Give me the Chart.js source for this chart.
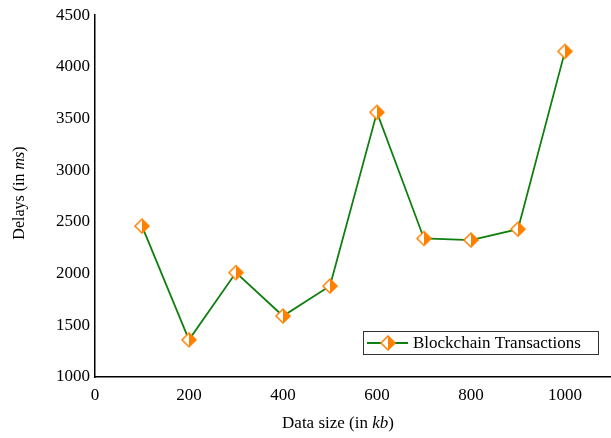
<!DOCTYPE html>
<html>
<head>
<meta charset="utf-8">
<script src="https://cdn.jsdelivr.net/npm/chart.js@4/dist/chart.umd.min.js"></script>
<style>
  html, body { margin: 0; padding: 0; background: #fff; }
  #wrap { width: 611px; height: 438px; }
</style>
</head>
<body>
<div id="wrap"><canvas id="c" width="611" height="438"></canvas></div>
<script>
// Data size (kb) and the measured delays (ms)
const dataSizes = [100, 200, 300, 400, 500, 600, 700, 800, 900, 1000];
const delays = [2460, 1360, 2010, 1590, 1880, 3560, 2340, 2325, 2430, 4150];
const xTicks = [0, 200, 400, 600, 800, 1000];
const yTicks = [1000, 1500, 2000, 2500, 3000, 3500, 4000, 4500];
const seriesName = 'Blockchain Transactions';

const FONT = '"Liberation Serif", "Times New Roman", serif';
const ORANGE = '#ff8000';
const GREEN = '#0f7f0f';

// Half-filled diamond marker
function makeDiamond(r) {
  const size = Math.ceil(r * 2 + 4);
  const cv = document.createElement('canvas');
  cv.width = size; cv.height = size;
  const g = cv.getContext('2d');
  const c = size / 2;
  g.beginPath();
  g.moveTo(c, c - r); g.lineTo(c + r, c); g.lineTo(c, c + r); g.lineTo(c - r, c); g.closePath();
  g.fillStyle = '#fff'; g.fill();
  g.beginPath();
  g.moveTo(c, c - r); g.lineTo(c + r, c); g.lineTo(c, c + r); g.closePath();
  g.fillStyle = ORANGE; g.fill();
  g.beginPath();
  g.moveTo(c, c - r); g.lineTo(c + r, c); g.lineTo(c, c + r); g.lineTo(c - r, c); g.closePath();
  g.strokeStyle = ORANGE; g.lineWidth = 1.5; g.stroke();
  return cv;
}
const marker = makeDiamond(7);

// Draws text made of roman/italic pieces, centred at (x, y)
function richText(ctx, parts, x, y, size) {
  const widths = parts.map(p => {
    ctx.font = (p.italic ? 'italic ' : '') + size + 'px ' + FONT;
    return ctx.measureText(p.text).width;
  });
  const total = widths.reduce((a, b) => a + b, 0);
  let cx = x - total / 2;
  ctx.textAlign = 'left';
  ctx.textBaseline = 'middle';
  parts.forEach((p, i) => {
    ctx.font = (p.italic ? 'italic ' : '') + size + 'px ' + FONT;
    ctx.fillText(p.text, cx, y);
    cx += widths[i];
  });
}

const decorations = {
  id: 'decorations',
  afterDraw(chart) {
    const ctx = chart.ctx;
    ctx.save();
    ctx.fillStyle = '#000';
    // x-axis title
    richText(ctx, [{text: 'Data size (in '}, {text: 'kb', italic: true}, {text: ')'}],
      338, 424, 17);
    // y-axis title
    ctx.save();
    ctx.translate(20, 193);
    ctx.rotate(-Math.PI / 2);
    richText(ctx, [{text: 'Delays (in '}, {text: 'ms', italic: true}, {text: ')'}], 0, 0, 16);
    ctx.restore();

    // legend box
    const bx = 363, by = 331, bw = 235, bh = 23;
    ctx.fillStyle = '#fff';
    ctx.fillRect(bx, by, bw, bh);
    ctx.strokeStyle = '#333';
    ctx.lineWidth = 1;
    ctx.strokeRect(bx + 0.5, by + 0.5, bw, bh);
    const ly = by + bh / 2 + 0.5;
    ctx.strokeStyle = GREEN;
    ctx.lineWidth = 2;
    ctx.beginPath();
    ctx.moveTo(367, ly); ctx.lineTo(408, ly);
    ctx.stroke();
    ctx.drawImage(marker, 388 - marker.width / 2, ly - marker.height / 2);
    ctx.fillStyle = '#000';
    ctx.font = '17px ' + FONT;
    ctx.textAlign = 'left';
    ctx.textBaseline = 'middle';
    ctx.fillText(chart.data.datasets[0].label, 413, ly + 1);
    ctx.restore();
  }
};

const plain = v => String(v);

new Chart(document.getElementById('c'), {
  type: 'line',
  data: {
    datasets: [{
      label: seriesName,
      data: dataSizes.map((x, i) => ({x: x, y: delays[i]})),
      borderColor: GREEN,
      borderWidth: 1.8,
      pointStyle: marker,
      pointRadius: 7,
      tension: 0,
      fill: false
    }]
  },
  options: {
    responsive: false,
    animation: false,
    layout: { autoPadding: false, padding: { top: 15, right: 0, left: 0, bottom: 0 } },
    plugins: { legend: { display: false }, tooltip: { enabled: false } },
    scales: {
      x: {
        type: 'linear',
        min: 0,
        max: 1098,
        afterBuildTicks: s => { s.ticks = xTicks.map(v => ({value: v})); },
        afterFit: s => { s.height = 61; },
        grid: { display: false, drawTicks: false },
        border: { display: true, color: '#000', width: 1.5 },
        ticks: { color: '#000', font: { family: FONT, size: 17 }, padding: 8, maxRotation: 0, callback: plain }
      },
      y: {
        type: 'linear',
        min: 1000,
        max: 4500,
        afterBuildTicks: s => { s.ticks = yTicks.map(v => ({value: v})); },
        afterFit: s => { s.width = 95; },
        grid: { display: false, drawTicks: false },
        border: { display: true, color: '#000', width: 1.5 },
        ticks: { color: '#000', font: { family: FONT, size: 17 }, padding: 5, callback: plain }
      }
    }
  },
  plugins: [decorations]
});
</script>
</body>
</html>
